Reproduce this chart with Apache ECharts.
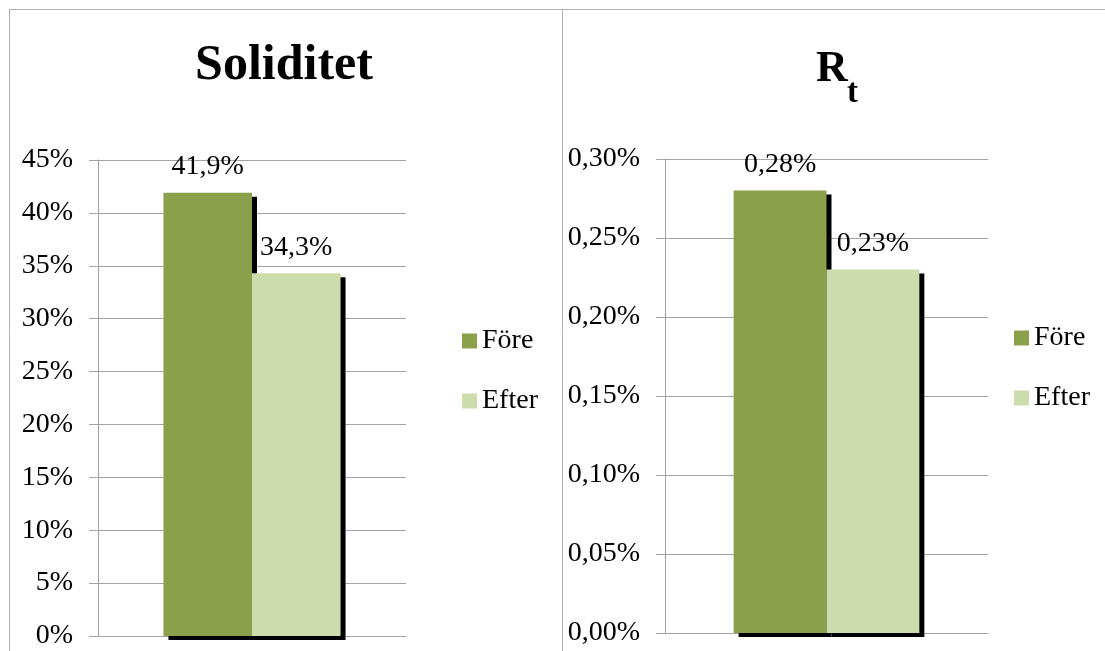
<!DOCTYPE html>
<html>
<head>
<meta charset="utf-8">
<script src="https://cdn.jsdelivr.net/npm/echarts@6/dist/echarts.min.js"></script>
<style>
  html, body { margin: 0; padding: 0; background: #ffffff; }
  #chart { width: 1105px; height: 651px; }
</style>
</head>
<body>
<div id="chart"></div>
<script>
// Series (one bar each per panel)
const seriesNames = ['Före', 'Efter'];
const barColors = ['#8aa04b', '#cddcad'];

// Soliditet, percent
const soliditetValues = [41.9, 34.3];
const soliditetTicks = [0, 5, 10, 15, 20, 25, 30, 35, 40, 45];

// Rt, percent
const rtValues = [0.28, 0.23];
const rtTicks = [0, 0.05, 0.10, 0.15, 0.20, 0.25, 0.30];

const FONT = 'Liberation Serif';
const TEXT_SIZE = 28;
const GRID_GREY = '#a3a3a3';

const fmtSoliditet = v => String(v).replace('.', ',') + '%';
const fmtRt = v => v.toFixed(2).replace('.', ',') + '%';

function yAxisFor(ticks, gridIndex, fmt) {
  return {
    type: 'value',
    gridIndex: gridIndex,
    min: ticks[0],
    max: ticks[ticks.length - 1],
    interval: ticks[1] - ticks[0],
    axisLine: { show: true, lineStyle: { color: GRID_GREY, width: 1 } },
    axisTick: { show: true, length: 9, lineStyle: { color: GRID_GREY } },
    axisLabel: {
      margin: 25, color: '#000', fontFamily: FONT, fontSize: TEXT_SIZE,
      padding: [6, 0, 0, 0],
      formatter: fmt
    },
    splitLine: { show: true, lineStyle: { color: GRID_GREY, width: 1 } }
  };
}

function xAxisFor(gridIndex) {
  return {
    type: 'category',
    gridIndex: gridIndex,
    data: [''],
    axisLine: { show: true, lineStyle: { color: GRID_GREY, width: 1 } },
    axisTick: { show: false },
    axisLabel: { show: false },
    splitLine: { show: false }
  };
}

function barSeries(name, value, color, axisIndex, fmt) {
  return {
    type: 'bar',
    name: name,
    xAxisIndex: axisIndex,
    yAxisIndex: axisIndex,
    data: [value],
    barGap: '0%',
    barCategoryGap: '42.5%',
    clip: false,
    itemStyle: {
      color: color,
      shadowColor: '#000000',
      shadowBlur: 0,
      shadowOffsetX: 5,
      shadowOffsetY: 4
    },
    label: {
      show: true,
      position: 'top',
      distance: 12,
      color: '#000',
      fontFamily: FONT,
      fontSize: TEXT_SIZE,
      formatter: p => fmt(p.value)
    },
    emphasis: { disabled: true }
  };
}

function legendAt(left, top) {
  return {
    data: seriesNames,
    orient: 'vertical',
    left: left,
    top: top,
    itemWidth: 15,
    itemHeight: 15,
    itemGap: 32,
    icon: 'rect',
    selectedMode: false,
    textStyle: { color: '#000', fontFamily: FONT, fontSize: TEXT_SIZE }
  };
}

const chart = echarts.init(document.getElementById('chart'), null, { renderer: 'canvas' });

chart.setOption({
  backgroundColor: '#ffffff',
  animation: false,
  grid: [
    { left: 98, top: 160, width: 308, height: 476 },
    { left: 665, top: 159, width: 323, height: 474 }
  ],
  xAxis: [xAxisFor(0), xAxisFor(1)],
  yAxis: [
    yAxisFor(soliditetTicks, 0, fmtSoliditet),
    yAxisFor(rtTicks, 1, fmtRt)
  ],
  legend: [legendAt(457, 322), legendAt(1009, 319)],
  series: [
    barSeries(seriesNames[0], soliditetValues[0], barColors[0], 0, fmtSoliditet),
    barSeries(seriesNames[1], soliditetValues[1], barColors[1], 0, fmtSoliditet),
    barSeries(seriesNames[0], rtValues[0], barColors[0], 1, fmtRt),
    barSeries(seriesNames[1], rtValues[1], barColors[1], 1, fmtRt)
  ],
  graphic: [
    // panel frames
    { type: 'line', silent: true, shape: { x1: 9.5, y1: 9.5, x2: 1105, y2: 9.5 },
      style: { stroke: '#b0b0b0', lineWidth: 1 } },
    { type: 'line', silent: true, shape: { x1: 9.5, y1: 9.5, x2: 9.5, y2: 651 },
      style: { stroke: '#b0b0b0', lineWidth: 1 } },
    { type: 'line', silent: true, shape: { x1: 562.5, y1: 9.5, x2: 562.5, y2: 651 },
      style: { stroke: '#b0b0b0', lineWidth: 1 } },
    // panel titles
    { type: 'text', silent: true, x: 284, y: 66,
      style: { text: 'Soliditet', fill: '#000', font: 'bold 50px "Liberation Serif"',
               textAlign: 'center', textVerticalAlign: 'middle' } },
    { type: 'text', silent: true, x: 816, y: 70,
      style: { text: 'R', fill: '#000', font: 'bold 44px "Liberation Serif"',
               textAlign: 'left', textVerticalAlign: 'middle' } },
    { type: 'text', silent: true, x: 847, y: 93,
      style: { text: 't', fill: '#000', font: 'bold 33px "Liberation Serif"',
               textAlign: 'left', textVerticalAlign: 'middle' } }
  ]
});
</script>
</body>
</html>
